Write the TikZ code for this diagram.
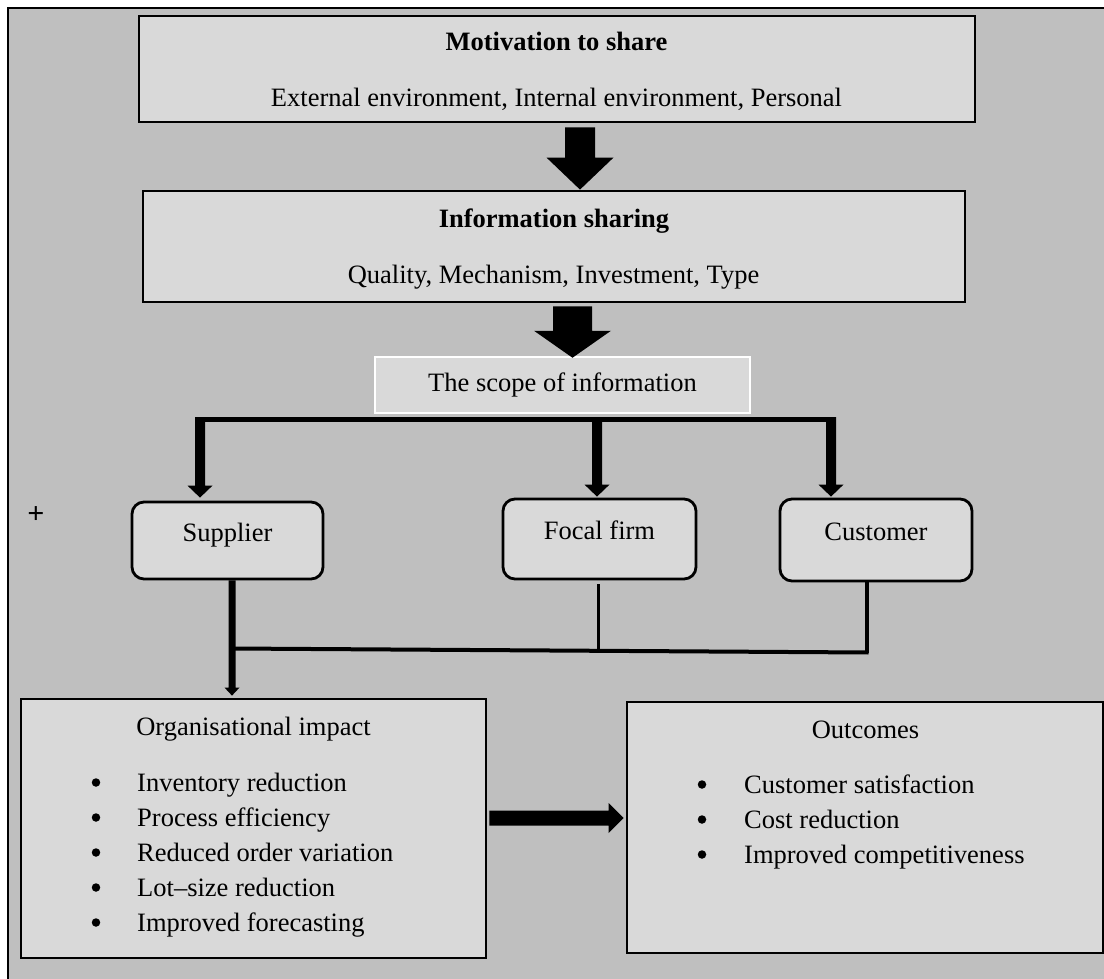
\documentclass[tikz,border=0pt]{standalone}
\usepackage{fontspec}
\setmainfont{Liberation Serif}
\usetikzlibrary{calc}
\definecolor{bggray}{HTML}{BFBFBF}
\definecolor{boxgray}{HTML}{D9D9D9}
% vertical block arrow: start, tip, shaft half width, head half width, head length
\newcommand\myvarrow[5]{\fill let \p1=(#1), \p2=(#2) in
  (\x1-#3,\y1) -- (\x1+#3,\y1) -- (\x1+#3,\y2+#5) -- (\x1+#4,\y2+#5) -- (\x1,\y2)
  -- (\x1-#4,\y2+#5) -- (\x1-#3,\y2+#5) -- cycle;}
% horizontal block arrow
\newcommand\myharrow[5]{\fill let \p1=(#1), \p2=(#2) in
  (\x1,\y1+#3) -- (\x2-#5,\y1+#3) -- (\x2-#5,\y1+#4) -- (\x2,\y1) -- (\x2-#5,\y1-#4)
  -- (\x2-#5,\y1-#3) -- (\x1,\y1-#3) -- cycle;}
\begin{document}
\begin{tikzpicture}[x=1pt,y=-1pt,
  box/.style={draw, line width=2.8pt, fill=boxgray, inner sep=0pt},
  rbox/.style={box, rounded corners=12pt, text height=18pt, text depth=17pt,
    font=\fontsize{26.5}{32}\selectfont},
  txt/.style={inner sep=0pt, font=\fontsize{26.5}{32}\selectfont},
  btxt/.style={txt, font=\fontsize{26.5}{32}\selectfont\bfseries},
  bul/.style={circle, fill=black, inner sep=0pt, minimum size=8.5pt},
  thinline/.style={line width=3pt},
  barline/.style={line width=5pt},
]
\clip (0,0) rectangle (1104,979);
\draw[fill=bggray, line width=2.5pt] (8,8) rectangle (1130,1000);

% top boxes
\node[box, minimum width=836pt, minimum height=106pt] (mot) at (557,69) {};
\node[btxt, anchor=base] (motT) at (556.5,51) {Motivation to share};
\node[txt, anchor=base] (motS) at (556.5,107) {External environment, Internal environment, Personal};

\node[box, minimum width=822pt, minimum height=111pt] (info) at (554,246.5) {};
\node[btxt, anchor=base] (infoT) at (554,227) {Information sharing};
\node[txt, anchor=base] (infoS) at (553.5,283) {Quality, Mechanism, Investment, Type};

\node[box, draw=white, line width=2.5pt, minimum width=375pt, minimum height=56pt,
  font=\fontsize{26.5}{32}\selectfont] (scope) at (562.5,385) {The scope of information};

% actor boxes
\node[rbox, minimum width=191pt, minimum height=77pt] (sup) at (227.5,540.5) {Supplier};
\node[rbox, minimum width=193pt, minimum height=80pt] (foc) at (599.5,539) {Focal firm};
\node[rbox, minimum width=192pt, minimum height=82pt] (cus) at (876,540) {Customer};

\node[inner sep=0pt, font=\fontsize{30}{32}\selectfont\bfseries] (plus) at (36,515) {+};

% bottom boxes
\node[box, minimum width=465pt, minimum height=259pt] (org) at (253.5,828.5) {};
\node[txt, anchor=base] (orgT) at (253.5,735) {Organisational impact};
\foreach \t [count=\i] in {Inventory reduction, Process efficiency, Reduced order variation, Lot--size reduction, Improved forecasting}{
  \node[bul] (ob\i) at (96,{782.5+35*(\i-1)}) {};
  \node[txt, anchor=base west] (ot\i) at (137,{791+35*(\i-1)}) {\t};
}

\node[box, minimum width=476pt, minimum height=251pt] (out) at (865,827.5) {};
\node[txt, anchor=base] (outT) at (865.5,738) {Outcomes};
\foreach \t [count=\i] in {Customer satisfaction, Cost reduction, Improved competitiveness}{
  \node[bul] (cb\i) at (702,{784.5+35*(\i-1)}) {};
  \node[txt, anchor=base west] (ct\i) at (744,{793+35*(\i-1)}) {\t};
}

% big arrows
\myvarrow{$(mot.south)+(23,4)$}{$(info.north)+(26,0)$}{15pt}{33.5pt}{32pt}
\myvarrow{$(info.south)+(18.5,3)$}{$(scope.north)+(10,2)$}{19.5pt}{38.5pt}{27pt}

% branch to actors
\coordinate (b1) at (200,417);
\coordinate (b2) at (597,417);
\coordinate (b3) at (831,417);
\draw[barline] ($(b1)+(-5,2.5)$) -- ($(b3)+(5,2.5)$);
\myvarrow{b1}{$(sup.north)+(-27.5,-3)$}{5pt}{12.5pt}{12pt}
\myvarrow{b2}{$(foc.north)+(-2.5,-1)$}{5pt}{12.5pt}{12pt}
\myvarrow{b3}{$(cus.north)+(-45,-1)$}{5pt}{12.5pt}{12pt}

% join to organisational impact
\coordinate (j2) at (598,650);
\coordinate (j3) at (867,652.5);
\draw[thinline] ($(foc.south)+(-1.5,4)$) -- (j2);
\draw[thinline, line width=3.5pt] ($(cus.south)+(-9,0)$) -- (j3);
\myvarrow{$(sup.south)+(4.5,0)$}{$(org.north)+(-21.5,-2)$}{3.5pt}{7.5pt}{8pt}
\coordinate (j1) at (232,648.5);
\draw[line width=4pt] (j1) -- ($(j3)+(1.5,0)$);

% organisational impact to outcomes
\myharrow{$(org.east)+(2,-10.5)$}{$(out.west)+(-2,-9.5)$}{7.5pt}{15pt}{15pt}
\end{tikzpicture}
\end{document}
